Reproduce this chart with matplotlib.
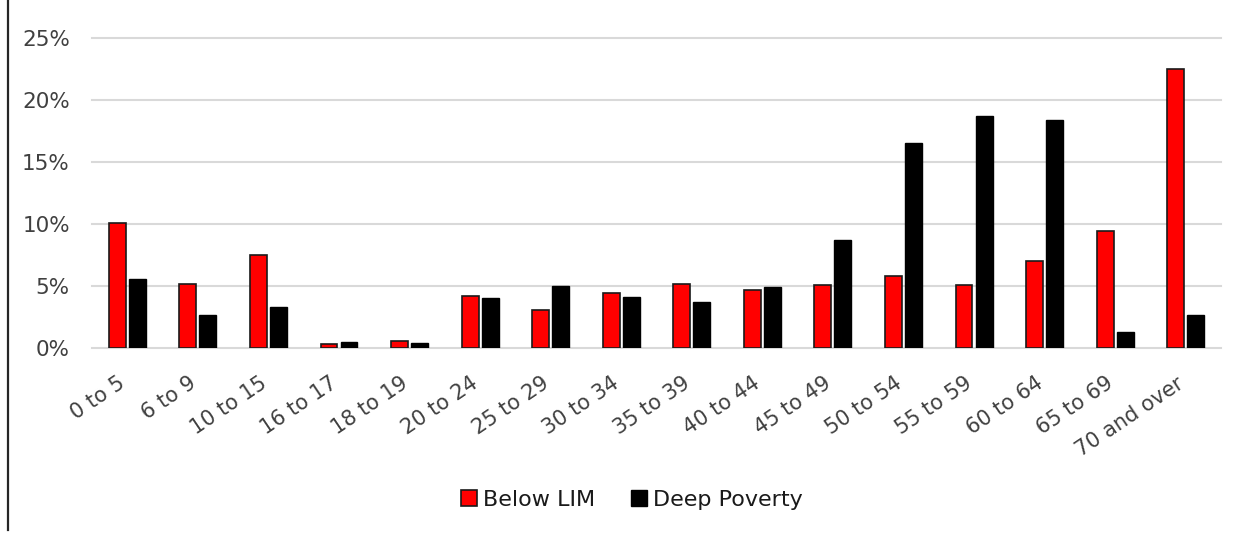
import matplotlib
matplotlib.use("Agg")
import matplotlib.pyplot as plt
import matplotlib.transforms as mtransforms
from matplotlib.lines import Line2D
from matplotlib.ticker import FuncFormatter
import numpy as np

age_groups = ["0 to 5", "6 to 9", "10 to 15", "16 to 17", "18 to 19", "20 to 24",
              "25 to 29", "30 to 34", "35 to 39", "40 to 44", "45 to 49", "50 to 54",
              "55 to 59", "60 to 64", "65 to 69", "70 and over"]
below_lim = [10.1, 5.2, 7.5, 0.3, 0.6, 4.2, 3.1, 4.4, 5.2, 4.7, 5.1, 5.8, 5.1, 7.0, 9.4, 22.5]
deep_poverty = [5.6, 2.7, 3.3, 0.5, 0.4, 4.0, 5.0, 4.1, 3.7, 4.9, 8.7, 16.5, 18.7, 18.4, 1.3, 2.7]
y_ticks = [0, 5, 10, 15, 20, 25]

plt.rcParams['font.family'] = ['DejaVu Sans']
text_color = "#404040"

fig = plt.figure(figsize=(12.44, 5.33), dpi=100)
ax = fig.add_axes([0.074, 0.347, 0.9075, 0.5817])

x = np.arange(len(age_groups))
bar_w = 0.24
off = 0.142
ax.bar(x - off, below_lim, width=bar_w, color="#FF0000", edgecolor="#1a1a1a",
       linewidth=1.2, label="Below LIM", zorder=3)
ax.bar(x + off, deep_poverty, width=bar_w, color="#000000", edgecolor="#000000",
       linewidth=1.0, label="Deep Poverty", zorder=3)

ax.set_xlim(-0.5, len(age_groups) - 0.5)
ax.set_ylim(0, 25)
ax.set_yticks(y_ticks)
ax.yaxis.set_major_formatter(FuncFormatter(lambda v, p: f"{v:.0f}%"))
ax.grid(axis="y", color="#d9d9d9", linewidth=1.5, zorder=0)
for gl in ax.get_ygridlines():
    gl.set_clip_on(False)
ax.set_axisbelow(True)
for s in ax.spines.values():
    s.set_visible(False)

ax.tick_params(axis="y", length=0, pad=16, labelsize=15.5, labelcolor=text_color)
ax.tick_params(axis="x", length=0, pad=24, labelsize=15, labelcolor=text_color)
ax.set_xticks(x)
ax.set_xticklabels(age_groups, rotation=34, ha="right", va="center",
                   rotation_mode="anchor")
shift = mtransforms.ScaledTranslation(-4 / 100, 0, fig.dpi_scale_trans)
for lbl in ax.get_xticklabels():
    lbl.set_transform(lbl.get_transform() + shift)

handles = [
    plt.Rectangle((0, 0), 1, 1, facecolor="#FF0000", edgecolor="#1a1a1a", linewidth=1.2),
    plt.Rectangle((0, 0), 1, 1, facecolor="#000000", edgecolor="#000000"),
]
fig.legend(handles, ["Below LIM", "Deep Poverty"], loc="center",
           bbox_to_anchor=(632 / 1244, 1 - 500 / 533), ncol=2, frameon=False,
           fontsize=16, handlelength=0.7, handleheight=0.7, handletextpad=0.3,
           columnspacing=1.6, labelcolor="#1a1a1a")

# left border rule
fig.add_artist(Line2D([8 / 1244, 8 / 1244], [0.005, 1.0], transform=fig.transFigure,
                      color="#262626", linewidth=1.6))

fig.savefig("out.png", dpi=100)
